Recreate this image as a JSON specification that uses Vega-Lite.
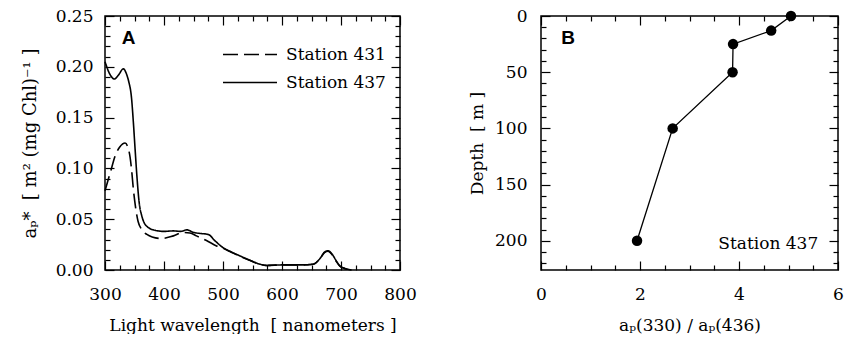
{
  "$schema": "https://vega.github.io/schema/vega-lite/v6.json",
  "padding": {"left": 20, "top": 6, "right": 0, "bottom": 0},
  "background": "white",
  "datasets": {
    "spectra": [
      {"station": "Station 437", "wavelength": 300, "ap": 0.205},
      {"station": "Station 437", "wavelength": 308, "ap": 0.193},
      {"station": "Station 437", "wavelength": 316, "ap": 0.188},
      {"station": "Station 437", "wavelength": 323, "ap": 0.192},
      {"station": "Station 437", "wavelength": 331, "ap": 0.198},
      {"station": "Station 437", "wavelength": 337, "ap": 0.192},
      {"station": "Station 437", "wavelength": 340, "ap": 0.186},
      {"station": "Station 437", "wavelength": 345, "ap": 0.169},
      {"station": "Station 437", "wavelength": 348, "ap": 0.146},
      {"station": "Station 437", "wavelength": 351, "ap": 0.119},
      {"station": "Station 437", "wavelength": 354, "ap": 0.093},
      {"station": "Station 437", "wavelength": 358, "ap": 0.066},
      {"station": "Station 437", "wavelength": 362, "ap": 0.054},
      {"station": "Station 437", "wavelength": 366, "ap": 0.047},
      {"station": "Station 437", "wavelength": 373, "ap": 0.042},
      {"station": "Station 437", "wavelength": 385, "ap": 0.039},
      {"station": "Station 437", "wavelength": 400, "ap": 0.038},
      {"station": "Station 437", "wavelength": 416, "ap": 0.0385},
      {"station": "Station 437", "wavelength": 428, "ap": 0.038},
      {"station": "Station 437", "wavelength": 439, "ap": 0.0395},
      {"station": "Station 437", "wavelength": 450, "ap": 0.037},
      {"station": "Station 437", "wavelength": 461, "ap": 0.036},
      {"station": "Station 437", "wavelength": 475, "ap": 0.035},
      {"station": "Station 437", "wavelength": 486, "ap": 0.029},
      {"station": "Station 437", "wavelength": 500, "ap": 0.022},
      {"station": "Station 437", "wavelength": 515, "ap": 0.0175},
      {"station": "Station 437", "wavelength": 529, "ap": 0.0138},
      {"station": "Station 437", "wavelength": 546, "ap": 0.0095},
      {"station": "Station 437", "wavelength": 563, "ap": 0.0056},
      {"station": "Station 437", "wavelength": 574, "ap": 0.0045},
      {"station": "Station 437", "wavelength": 600, "ap": 0.005},
      {"station": "Station 437", "wavelength": 630, "ap": 0.005},
      {"station": "Station 437", "wavelength": 653, "ap": 0.0058},
      {"station": "Station 437", "wavelength": 664, "ap": 0.011},
      {"station": "Station 437", "wavelength": 672, "ap": 0.0175},
      {"station": "Station 437", "wavelength": 678, "ap": 0.019},
      {"station": "Station 437", "wavelength": 685, "ap": 0.0155},
      {"station": "Station 437", "wavelength": 692, "ap": 0.009},
      {"station": "Station 437", "wavelength": 698, "ap": 0.004},
      {"station": "Station 437", "wavelength": 707, "ap": 0.0015},
      {"station": "Station 437", "wavelength": 718, "ap": 0.0},
      {"station": "Station 431", "wavelength": 300, "ap": 0.078},
      {"station": "Station 431", "wavelength": 305, "ap": 0.088},
      {"station": "Station 431", "wavelength": 310, "ap": 0.098},
      {"station": "Station 431", "wavelength": 317, "ap": 0.112},
      {"station": "Station 431", "wavelength": 325, "ap": 0.121},
      {"station": "Station 431", "wavelength": 334, "ap": 0.125},
      {"station": "Station 431", "wavelength": 341, "ap": 0.116},
      {"station": "Station 431", "wavelength": 345, "ap": 0.099},
      {"station": "Station 431", "wavelength": 348, "ap": 0.08},
      {"station": "Station 431", "wavelength": 352, "ap": 0.061},
      {"station": "Station 431", "wavelength": 356, "ap": 0.048},
      {"station": "Station 431", "wavelength": 362, "ap": 0.04},
      {"station": "Station 431", "wavelength": 371, "ap": 0.035},
      {"station": "Station 431", "wavelength": 380, "ap": 0.0325},
      {"station": "Station 431", "wavelength": 396, "ap": 0.031},
      {"station": "Station 431", "wavelength": 416, "ap": 0.0336},
      {"station": "Station 431", "wavelength": 433, "ap": 0.037},
      {"station": "Station 431", "wavelength": 444, "ap": 0.0365},
      {"station": "Station 431", "wavelength": 455, "ap": 0.0336},
      {"station": "Station 431", "wavelength": 472, "ap": 0.029},
      {"station": "Station 431", "wavelength": 489, "ap": 0.0237},
      {"station": "Station 431", "wavelength": 500, "ap": 0.0215},
      {"station": "Station 431", "wavelength": 515, "ap": 0.0172},
      {"station": "Station 431", "wavelength": 529, "ap": 0.0135},
      {"station": "Station 431", "wavelength": 546, "ap": 0.0093},
      {"station": "Station 431", "wavelength": 563, "ap": 0.0055},
      {"station": "Station 431", "wavelength": 574, "ap": 0.0045},
      {"station": "Station 431", "wavelength": 600, "ap": 0.005},
      {"station": "Station 431", "wavelength": 630, "ap": 0.005},
      {"station": "Station 431", "wavelength": 653, "ap": 0.0057},
      {"station": "Station 431", "wavelength": 664, "ap": 0.0108},
      {"station": "Station 431", "wavelength": 672, "ap": 0.017},
      {"station": "Station 431", "wavelength": 678, "ap": 0.0185},
      {"station": "Station 431", "wavelength": 685, "ap": 0.015},
      {"station": "Station 431", "wavelength": 692, "ap": 0.0085},
      {"station": "Station 431", "wavelength": 698, "ap": 0.0038},
      {"station": "Station 431", "wavelength": 707, "ap": 0.0013},
      {"station": "Station 431", "wavelength": 718, "ap": 0.0}
    ],
    "profile": [
      {"ratio": 5.05, "depth": 0},
      {"ratio": 4.65, "depth": 13},
      {"ratio": 3.88, "depth": 25},
      {"ratio": 3.87, "depth": 50},
      {"ratio": 2.66, "depth": 100},
      {"ratio": 1.94, "depth": 200}
    ]
  },
  "hconcat": [
    {
      "width": 295,
      "height": 254,
      "data": {"name": "spectra"},
      "layer": [
        {
          "mark": {"type": "line", "interpolate": "monotone", "strokeWidth": 1.6, "color": "black"},
          "encoding": {
            "x": {"field": "wavelength", "type": "quantitative",
                  "scale": {"domain": [300, 800], "nice": false, "zero": false},
                  "axis": {"orient": "bottom", "values": [300, 400, 500, 600, 700, 800], "tickSize": -9, "labelPadding": 25,
                           "title": "Light wavelength\u00a0 [ nanometers ]", "titlePadding": 15}},
            "y": {"field": "ap", "type": "quantitative",
                  "scale": {"domain": [0, 0.25], "nice": false},
                  "axis": {"orient": "left", "values": [0, 0.05, 0.1, 0.15, 0.2, 0.25], "format": ".2f", "tickSize": -9, "labelPadding": 21,
                           "title": "aₚ*\u00a0 [ m² (mg Chl)⁻¹ ]", "titleFontSize": 18, "titlePadding": 16}},
            "strokeDash": {"field": "station", "type": "nominal",
                           "scale": {"domain": ["Station 431", "Station 437"], "range": [[15, 6], [1, 0]]},
                           "legend": {"title": null, "orient": "none", "legendX": 117, "legendY": 24, "symbolType": "M-1,0H3",
                                      "symbolSize": 729, "symbolStrokeWidth": 1.6, "symbolStrokeColor": "black", "symbolFillColor": "transparent",
                                      "labelFont": "DejaVu Serif", "labelFontSize": 17, "labelColor": "black",
                                      "rowPadding": 5, "labelOffset": 35}}
          }
        },
        {
          "mark": {"type": "line", "opacity": 0},
          "encoding": {
            "x": {"field": "wavelength", "type": "quantitative",
                  "axis": {"orient": "bottom", "values": [325, 350, 375, 425, 450, 475, 525, 550, 575, 625, 650, 675, 725, 750, 775], "tickSize": -5, "labels": false, "title": null}},
            "y": {"field": "ap", "type": "quantitative",
                  "axis": {"orient": "left", "values": [0.01, 0.02, 0.03, 0.04, 0.06, 0.07, 0.08, 0.09, 0.11, 0.12, 0.13, 0.14, 0.16, 0.17, 0.18, 0.19, 0.21, 0.22, 0.23, 0.24], "tickSize": -5, "labels": false, "title": null}}
          }
        },
        {
          "mark": {"type": "line", "opacity": 0},
          "encoding": {
            "x": {"field": "wavelength", "type": "quantitative",
                  "axis": {"orient": "top", "values": [300, 400, 500, 600, 700, 800], "tickSize": -9, "labels": false, "title": null}},
            "y": {"field": "ap", "type": "quantitative",
                  "axis": {"orient": "right", "values": [0, 0.05, 0.1, 0.15, 0.2, 0.25], "tickSize": -9, "labels": false, "title": null}}
          }
        },
        {
          "mark": {"type": "line", "opacity": 0},
          "encoding": {
            "x": {"field": "wavelength", "type": "quantitative",
                  "axis": {"orient": "top", "values": [325, 350, 375, 425, 450, 475, 525, 550, 575, 625, 650, 675, 725, 750, 775], "tickSize": -5, "labels": false, "title": null}},
            "y": {"field": "ap", "type": "quantitative",
                  "axis": {"orient": "right", "values": [0.01, 0.02, 0.03, 0.04, 0.06, 0.07, 0.08, 0.09, 0.11, 0.12, 0.13, 0.14, 0.16, 0.17, 0.18, 0.19, 0.21, 0.22, 0.23, 0.24], "tickSize": -5, "labels": false, "title": null}}
          }
        },
        {
          "data": {"values": [{"tag": "A", "wavelength": 340, "ap": 0.228}]},
          "mark": {"type": "text", "font": "Liberation Sans", "fontWeight": "bold", "fontSize": 19, "align": "center", "baseline": "middle", "color": "black"},
          "encoding": {
            "x": {"field": "wavelength", "type": "quantitative", "axis": null},
            "y": {"field": "ap", "type": "quantitative", "axis": null},
            "text": {"field": "tag"}
          }
        }
      ],
      "resolve": {"axis": {"x": "independent", "y": "independent"}}
    },
    {
      "width": 297,
      "height": 254,
      "data": {"name": "profile"},
      "layer": [
        {
          "mark": {"type": "line", "strokeWidth": 1.3, "color": "black"},
          "encoding": {
            "x": {"field": "ratio", "type": "quantitative",
                  "scale": {"domain": [0, 6], "nice": false},
                  "axis": {"orient": "bottom", "values": [0, 2, 4, 6], "tickSize": -9, "labelPadding": 25,
                           "title": "aₚ(330) / aₚ(436)", "titlePadding": 15}},
            "y": {"field": "depth", "type": "quantitative",
                  "scale": {"domain": [0, 226], "nice": false, "reverse": true},
                  "axis": {"orient": "left", "values": [0, 50, 100, 150, 200], "tickSize": -9, "labelPadding": 23,
                           "title": "Depth\u00a0 [ m ]", "titlePadding": 8}},
            "order": {"field": "depth", "type": "quantitative"}
          }
        },
        {
          "mark": {"type": "point", "filled": true, "color": "black", "size": 110, "opacity": 1},
          "encoding": {
            "x": {"field": "ratio", "type": "quantitative",
                  "axis": {"orient": "bottom", "values": [0.5, 1, 1.5, 2.5, 3, 3.5, 4.5, 5, 5.5], "tickSize": -5, "labels": false, "title": null}},
            "y": {"field": "depth", "type": "quantitative",
                  "axis": {"orient": "left", "values": [10, 20, 30, 40, 60, 70, 80, 90, 110, 120, 130, 140, 160, 170, 180, 190, 210, 220], "tickSize": -5, "labels": false, "title": null}}
          }
        },
        {
          "mark": {"type": "point", "opacity": 0},
          "encoding": {
            "x": {"field": "ratio", "type": "quantitative",
                  "axis": {"orient": "top", "values": [0, 2, 4, 6], "tickSize": -9, "labels": false, "title": null}},
            "y": {"field": "depth", "type": "quantitative",
                  "axis": {"orient": "right", "values": [0, 50, 100, 150, 200], "tickSize": -9, "labels": false, "title": null}}
          }
        },
        {
          "mark": {"type": "point", "opacity": 0},
          "encoding": {
            "x": {"field": "ratio", "type": "quantitative",
                  "axis": {"orient": "top", "values": [0.5, 1, 1.5, 2.5, 3, 3.5, 4.5, 5, 5.5], "tickSize": -5, "labels": false, "title": null}},
            "y": {"field": "depth", "type": "quantitative",
                  "axis": {"orient": "right", "values": [10, 20, 30, 40, 60, 70, 80, 90, 110, 120, 130, 140, 160, 170, 180, 190, 210, 220], "tickSize": -5, "labels": false, "title": null}}
          }
        },
        {
          "data": {"values": [{"tag": "B", "ratio": 0.55, "depth": 19.6}]},
          "mark": {"type": "text", "font": "Liberation Sans", "fontWeight": "bold", "fontSize": 19, "align": "center", "baseline": "middle", "color": "black"},
          "encoding": {
            "x": {"field": "ratio", "type": "quantitative", "axis": null},
            "y": {"field": "depth", "type": "quantitative", "axis": null},
            "text": {"field": "tag"}
          }
        },
        {
          "data": {"values": [{"tag": "Station 437", "ratio": 5.6, "depth": 203}]},
          "mark": {"type": "text", "font": "DejaVu Serif", "fontSize": 17, "align": "right", "baseline": "middle", "color": "black"},
          "encoding": {
            "x": {"field": "ratio", "type": "quantitative", "axis": null},
            "y": {"field": "depth", "type": "quantitative", "axis": null},
            "text": {"field": "tag"}
          }
        }
      ],
      "resolve": {"axis": {"x": "independent", "y": "independent"}}
    }
  ],
  "spacing": 50,
  "resolve": {"legend": {"strokeDash": "independent"}},
  "config": {
    "font": "DejaVu Serif",
    "view": {"stroke": "black", "strokeWidth": 1.5},
    "axis": {"grid": false, "domain": false, "labelFlush": false, "labelFont": "DejaVu Serif", "labelFontSize": 17, "labelColor": "black",
             "titleFont": "DejaVu Serif", "titleFontSize": 17, "titleFontWeight": "normal", "titleColor": "black",
             "tickColor": "black", "tickWidth": 1.2}
  }
}
